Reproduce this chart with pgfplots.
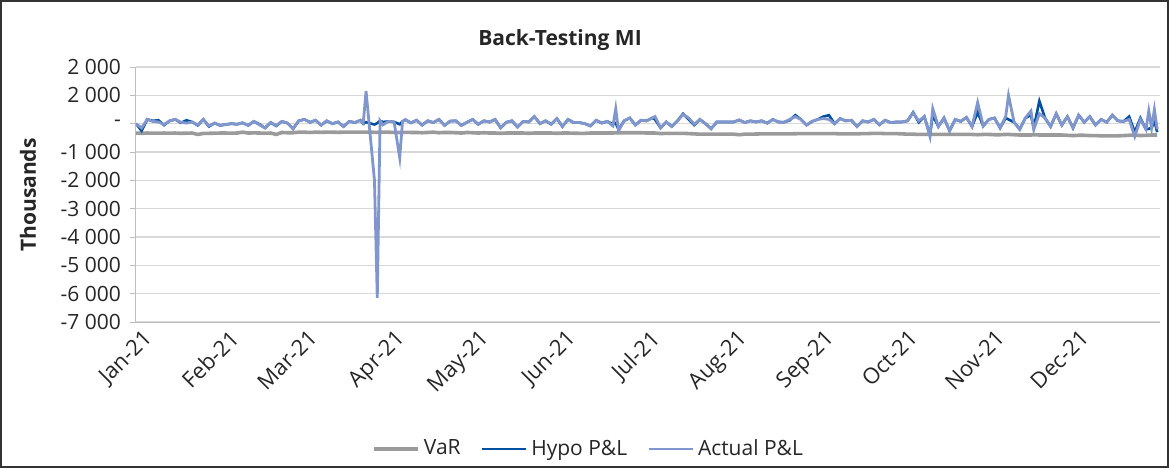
\documentclass[border=0pt]{standalone}
\usepackage{pgfplots}
\pgfplotsset{compat=1.18}
\usepackage{pgfplotstable}
\usepackage{fontspec}
\setmainfont{Open Sans}
\definecolor{varc}{RGB}{155,155,155}
\definecolor{hypoc}{RGB}{0,80,160}
\definecolor{actc}{RGB}{128,150,205}
\definecolor{gridc}{RGB}{217,217,217}
\definecolor{axc}{RGB}{191,191,191}
\pgfplotstableread{
x var hypo act
0 -330 0 0
2 -340 -250 -150
4 -330 150 150
6 -335 100 80
8 -335 120 60
10 -330 -50 -30
12 -335 100 100
14 -330 150 150
16 -340 30 50
18 -335 120 20
20 -330 60 60
22 -380 -60 -40
24 -345 150 150
26 -340 -100 -80
28 -335 20 20
30 -330 -60 -60
32 -330 -30 -30
34 -335 0 0
36 -330 -20 -20
38 -300 30 30
40 -330 -60 -60
42 -325 80 80
44 -330 -20 -40
46 -335 -150 -150
48 -330 40 40
50 -380 -80 -60
52 -310 80 80
54 -320 20 20
56 -320 -180 -180
58 -300 100 100
60 -300 150 150
62 -310 50 50
64 -300 120 120
66 -305 -50 -50
68 -300 100 100
70 -300 0 0
72 -305 60 60
74 -300 -100 -100
76 -300 80 80
78 -300 40 40
80 -300 120 120
81 -300 0 20
82 -300 50 1150
85 -305 -30 -2000
86 -305 20 -6150
87 -300 100 100
88 -300 60 -40
90 -300 80 80
92 -310 60 60
94 -310 -20 -1200
95 -310 80 80
96 -305 140 140
98 -310 30 30
100 -310 120 120
102 -320 -50 -50
104 -310 100 100
106 -300 40 40
108 -320 150 150
110 -310 -60 -60
112 -310 90 90
114 -320 100 100
116 -330 -60 -60
118 -310 50 50
120 -320 150 150
122 -330 -20 -20
124 -320 100 100
126 -330 60 60
128 -330 150 150
130 -340 -150 -150
132 -330 50 50
134 -330 100 100
136 -330 -120 -120
138 -330 80 80
140 -340 60 60
142 -330 250 250
144 -330 0 0
146 -330 100 100
148 -330 -20 -20
150 -340 180 180
152 -330 -100 -100
154 -330 150 150
156 -335 40 40
158 -340 40 40
160 -340 0 0
162 -330 -80 -80
164 -330 120 120
166 -330 20 30
168 -330 80 80
170 -330 -20 -80
171 -320 20 530
172 -320 -200 -250
174 -320 100 100
176 -320 200 200
178 -320 -50 -50
180 -320 120 120
182 -330 100 100
184 -330 200 200
185 -330 150 250
187 -350 -150 -150
189 -340 60 60
191 -340 -100 -100
193 -340 100 100
195 -340 350 330
197 -350 150 200
199 -360 -50 -20
201 -370 150 150
203 -370 0 0
205 -370 -180 -180
207 -370 60 60
209 -370 60 60
211 -370 60 60
213 -370 60 60
215 -390 130 130
217 -370 40 40
219 -370 100 100
221 -365 60 60
223 -360 100 100
225 -360 20 20
227 -360 150 150
229 -360 60 60
231 -360 50 50
233 -360 120 150
235 -355 300 250
237 -350 150 150
239 -350 -50 -50
241 -350 80 80
243 -350 150 150
245 -350 250 180
247 -350 300 150
249 -350 0 0
251 -360 180 180
253 -360 100 100
255 -360 120 120
257 -360 -100 -100
259 -350 100 100
261 -350 60 60
263 -340 150 150
265 -340 -40 -40
267 -350 120 120
269 -350 40 40
271 -350 60 60
273 -360 60 60
275 -370 100 100
277 -370 400 380
279 -380 50 100
281 -380 250 250
283 -380 -400 -450
284 -380 300 530
286 -380 -100 -100
288 -380 200 200
290 -380 -250 -250
292 -380 150 150
294 -380 80 80
296 -380 220 220
298 -380 -100 -100
300 -390 400 750
302 -380 -80 -80
304 -380 150 150
306 -390 200 200
308 -390 -150 -150
310 -380 200 250
311 -380 150 1000
313 -390 50 50
315 -400 -200 -200
317 -400 200 200
319 -400 300 450
320 -390 -150 -200
322 -400 800 350
324 -400 200 200
326 -400 -100 -100
328 -400 350 350
330 -400 -50 -50
332 -410 250 250
334 -420 -150 -150
336 -410 300 300
338 -410 50 50
340 -420 250 250
342 -420 -50 -50
344 -430 150 150
346 -430 50 50
348 -430 300 300
350 -430 100 100
352 -420 80 80
354 -410 250 150
356 -400 -300 -450
358 -420 200 150
360 -410 -200 -200
361 -410 -180 450
362 -400 -150 -150
363 -400 100 500
364 -400 -300 -200
}\datatable
\begin{document}
\begin{tikzpicture}
\begin{axis}[
  at={(68pt,73pt)}, anchor=south west,
  scale only axis, width=512pt, height=127.5pt,
  xmin=0, xmax=365, ymin=-7000, ymax=2000,
  axis x line*=bottom, axis y line*=left,
  axis line style={draw=axc, line width=0.5pt},
  xtick={0,31,59,90,120,151,181,212,243,273,304,334},
  xticklabels={Jan-21,Feb-21,Mar-21,Apr-21,May-21,Jun-21,Jul-21,Aug-21,Sep-21,Oct-21,Nov-21,Dec-21},
  xtick style={draw=none},
  xticklabel style={rotate=45, anchor=north east, inner sep=0pt, xshift=2pt, yshift=-2pt, font=\fontsize{11}{13}\selectfont, text=black!85},
  ytick={-7000,-6000,-5000,-4000,-3000,-2000,-1000,0,1000,2000},
  yticklabels={-7 000,-6 000,-5 000,-4 000,-3 000,-2 000,-1 000,-,2 000,2 000},
  ytick style={draw=axc, line width=0.5pt},
  tick align=outside, major tick length=3pt,
  yticklabel style={font=\fontsize{10.5}{12}\selectfont, text=black!85, xshift=-1pt},
  ymajorgrids, grid style={draw=gridc, line width=0.6pt},
  legend columns=3,
  legend style={at={(0.443,-0.498)}, anchor=center, draw=none, fill=none,
    font=\fontsize{10.5}{12}\selectfont, text=black!85,
    /tikz/every even column/.append style={column sep=8pt}},
  legend image code/.code={\draw[#1] (0pt,0pt) -- (22pt,0pt);},
]
\addplot[varc, line width=1.8pt] table[x=x, y=var] {\datatable};
\addlegendentry{VaR}
\addplot[hypoc, line width=1.3pt] table[x=x, y=hypo] {\datatable};
\addlegendentry{Hypo P\&L}
\addplot[actc, line width=1.4pt] table[x=x, y=act] {\datatable};
\addlegendentry{Actual P\&L}
\end{axis}
\node[font=\bfseries\fontsize{10.5}{12}\selectfont, text=black!85] at (280pt,214pt) {Back-Testing MI};
\node[rotate=90, font=\bfseries\fontsize{10.5}{12}\selectfont, text=black!85] at (14pt,136.5pt) {Thousands};
\draw[black!80, line width=0.8pt] (0.6pt,0.6pt) rectangle (583.9pt,233.4pt);
\pgfresetboundingbox
\path[use as bounding box] (0,0) rectangle (584.5pt,234pt);
\end{tikzpicture}
\end{document}
